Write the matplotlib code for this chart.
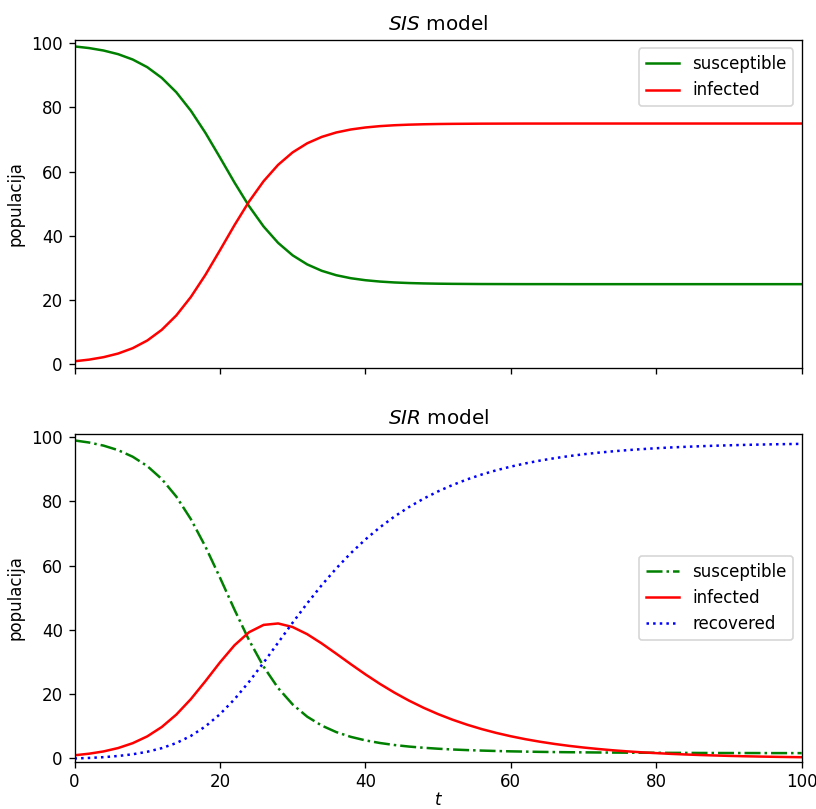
import matplotlib
matplotlib.use("Agg")
import matplotlib.pyplot as plt

# time grid (every 2 units)
t = list(range(0, 101, 2))

# SIS model values
sis_susceptible = [99.00, 98.49, 97.72, 96.59, 94.93, 92.55, 89.21, 84.73, 78.99, 72.11,
                   64.45, 56.63, 49.29, 42.96, 37.85, 33.97, 31.15, 29.16, 27.78, 26.85,
                   26.23, 25.81, 25.53, 25.35, 25.23, 25.15, 25.10, 25.07, 25.04, 25.03,
                   25.02, 25.01, 25.01, 25.01, 25.00, 25.00, 25.00, 25.00, 25.00, 25.00,
                   25.00, 25.00, 25.00, 25.00, 25.00, 25.00, 25.00, 25.00, 25.00, 25.00, 25.00]
sis_infected = [1.00, 1.51, 2.28, 3.41, 5.07, 7.45, 10.79, 15.27, 21.01, 27.89,
                35.55, 43.37, 50.71, 57.04, 62.15, 66.03, 68.85, 70.84, 72.22, 73.15,
                73.77, 74.19, 74.47, 74.65, 74.77, 74.85, 74.90, 74.93, 74.96, 74.97,
                74.98, 74.99, 74.99, 74.99, 75.00, 75.00, 75.00, 75.00, 75.00, 75.00,
                75.00, 75.00, 75.00, 75.00, 75.00, 75.00, 75.00, 75.00, 75.00, 75.00, 75.00]

# SIR model values
sir_susceptible = [99.00, 98.35, 97.38, 95.97, 93.93, 91.03, 86.98, 81.52, 74.50, 65.96,
                   56.32, 46.32, 36.84, 28.60, 21.93, 16.81, 13.01, 10.24, 8.21, 6.73,
                   5.64, 4.82, 4.19, 3.71, 3.34, 3.04, 2.80, 2.61, 2.46, 2.33,
                   2.22, 2.14, 2.06, 2.00, 1.95, 1.91, 1.87, 1.84, 1.81, 1.79,
                   1.77, 1.75, 1.74, 1.72, 1.71, 1.70, 1.70, 1.69, 1.68, 1.68, 1.67]
sir_infected = [1.00, 1.49, 2.20, 3.25, 4.76, 6.88, 9.80, 13.66, 18.48, 24.06,
                29.90, 35.24, 39.30, 41.58, 42.03, 40.91, 38.69, 35.80, 32.61, 29.35,
                26.19, 23.22, 20.49, 18.01, 15.79, 13.81, 12.06, 10.51, 9.15, 7.96,
                6.92, 6.01, 5.22, 4.53, 3.93, 3.41, 2.96, 2.56, 2.22, 1.92,
                1.67, 1.44, 1.25, 1.08, 0.94, 0.81, 0.70, 0.61, 0.53, 0.46, 0.40]
sir_recovered = [0.00, 0.17, 0.41, 0.78, 1.31, 2.09, 3.22, 4.81, 7.02, 9.98,
                 13.78, 18.44, 23.86, 29.82, 36.05, 42.28, 48.30, 53.96, 59.18, 63.92,
                 68.17, 71.96, 75.32, 78.27, 80.87, 83.15, 85.14, 86.88, 88.39, 89.71,
                 90.85, 91.85, 92.72, 93.47, 94.12, 94.69, 95.18, 95.60, 95.97, 96.29,
                 96.57, 96.81, 97.01, 97.19, 97.35, 97.48, 97.60, 97.70, 97.79, 97.86, 97.93]

W, H = 816, 809
fig = plt.figure(figsize=(W / 120, H / 120), dpi=120)
ax1 = fig.add_axes([74.5 / W, 1 - 367.7 / H, 727.2 / W, 327.7 / H])
ax2 = fig.add_axes([74.5 / W, 1 - 761.7 / H, 727.2 / W, 327.7 / H], sharex=ax1)

ax1.plot(t, sis_susceptible, color='g', linestyle='-', label='susceptible')
ax1.plot(t, sis_infected, color='r', linestyle='-', label='infected')

ax2.plot(t, sir_susceptible, color='g', linestyle='-.', label='susceptible')
ax2.plot(t, sir_infected, color='r', linestyle='-', label='infected')
ax2.plot(t, sir_recovered, color='b', linestyle=':', label='recovered')

for ax in (ax1, ax2):
    ax.set_xlim(0, 100)
    ax.set_ylim(-1, 101)
    ax.set_ylabel('populacija')
ax1.tick_params(labelbottom=False)
ax1.set_title('$SIS$ model')
ax2.set_title('$SIR$ model')
ax2.set_xlabel('$t$', labelpad=0)
ax1.legend(loc='upper right')
ax2.legend(loc='center right')

fig.savefig("out.png", dpi=120)
